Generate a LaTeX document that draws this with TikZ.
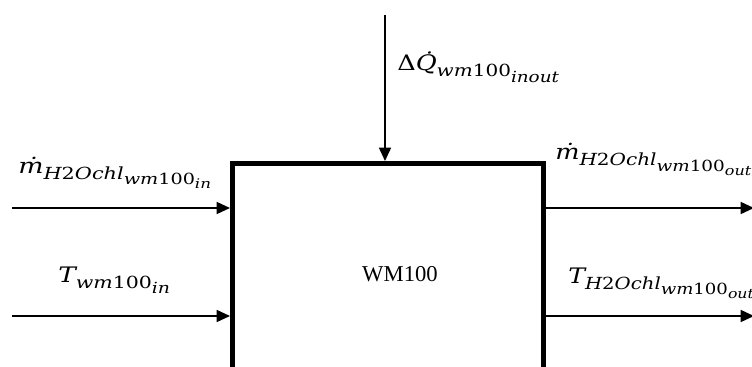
\documentclass[tikz,border=0pt]{standalone}
\usepackage{fontspec}
\setmainfont{Liberation Serif}
\newfontfamily\dvser{DejaVu Serif}
\usetikzlibrary{arrows.meta}
\newcommand\sz[1]{\fontsize{#1}{#1}\selectfont}
\newcommand\up[1]{{\upshape #1}}
% base letter, then nested subscripts
\newcommand\lvA[1]{\sz{16}#1}
\newcommand\lvB[1]{\raisebox{-4.5pt}{\sz{12.5}#1}}
\newcommand\lvC[1]{\raisebox{-3.8pt}{\sz{11.5}#1}}
\newcommand\lvD[1]{\raisebox{-3pt}{\sz{10}#1}}
\newcommand\wide[2][1.25]{\scalebox{#1}[1]{\dvser\itshape #2}}
\tikzset{
  flow/.style={line width=1.1pt,-{Triangle[length=10pt,width=9pt]}},
  blockbox/.style={draw,line width=3.8pt,minimum width=311*0.75pt,minimum height=240*0.75pt,inner sep=0pt,anchor=north west},
  lbl/.style={inner sep=0pt,anchor=base west}
}
\begin{document}
\begin{tikzpicture}[x=0.75pt,y=-0.75pt]
\useasboundingbox (0,0) rectangle (752,367);
\clip (0,0) rectangle (752,367);
\node[blockbox] (wm) at (230,161) {};
\node[lbl,anchor=base] (name) at (400,281) {\sz{17}WM100};
% free ends
\coordinate (in1) at (12,208);
\coordinate (in2) at (12,316);
\coordinate (q) at (385,15);
\coordinate (out1) at (754,208);
\coordinate (out2) at (754,316);
\draw[flow] (in1) -- (in1 -| wm.west);
\draw[flow] (in2) -- (in2 -| wm.west);
\draw[flow] (q) -- (q |- wm.north);
\draw[flow] (out1 -| wm.east) -- (out1);
\draw[flow] (out2 -| wm.east) -- (out2);
% labels
\node[lbl] (l1) at (18,173) {\wide{\lvA{ṁ}\lvB{H\up{2}Ochl\lvC{wm\up{100}\lvD{in}}}}};
\node[lbl] (l2) at (58,282) {\wide[1.23]{\lvA{T}\lvB{wm\up{100}\lvC{in}}}};
\node[lbl] (l3) at (555,160) {\wide[1.2]{\lvA{ṁ}\lvB{H\up{2}Ochl\lvC{wm\up{100}\lvD{out}}}}};
\node[lbl] (l4) at (568,283) {\wide[1.18]{\lvA{T}\lvB{H\up{2}Ochl\lvC{wm\up{100}\lvD{out}}}}};
\node[lbl] (l5) at (397,71) {\wide[1.2]{\lvA{\up{Δ}\.Q}\lvB{wm\up{100}\lvC{inout}}}};
\end{tikzpicture}
\end{document}
